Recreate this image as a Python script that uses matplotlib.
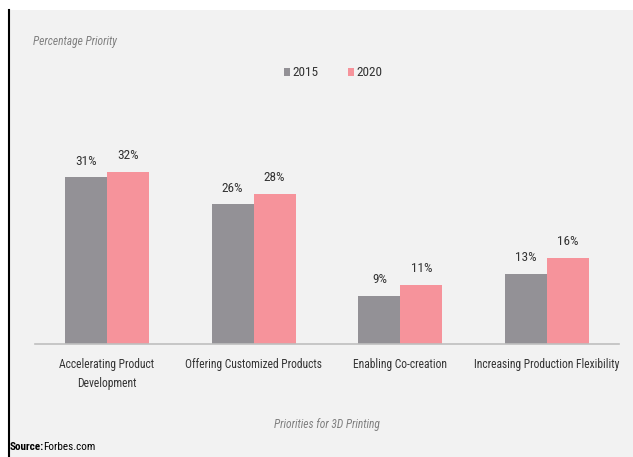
import matplotlib
matplotlib.use("Agg")
import matplotlib.pyplot as plt
from matplotlib.patches import Rectangle
from matplotlib.lines import Line2D
import numpy as np

# data
categories = ["Accelerating Product\nDevelopment", "Offering Customized Products",
              "Enabling Co-creation", "Increasing Production Flexibility"]
years = ["2015", "2020"]
vals_2015 = [31, 26, 9, 13]
vals_2020 = [32, 28, 11, 16]

gray = "#939196"
pink = "#f6939b"
bg = "#f2f2f2"
txt = "#333333"

# narrow font if there is one, else plain sans
plt.rcParams['font.family'] = ['Liberation Sans Narrow', 'Arial Narrow', 'Roboto Condensed',
                               'Archivo Narrow', 'Liberation Sans', 'DejaVu Sans']

fig = plt.figure(figsize=(6.33, 4.57), dpi=100)
fig.patch.set_facecolor("white")
# grey panel and left black rule
fig.add_artist(Rectangle((9 / 633, 0), 1, (457 - 10) / 457, transform=fig.transFigure,
                         facecolor=bg, edgecolor="none", zorder=0))
fig.add_artist(Line2D([9 / 633, 9 / 633], [0, (457 - 10) / 457], transform=fig.transFigure,
                      color="black", lw=1.5, zorder=1))

ax = fig.add_axes([35 / 633, 113 / 457, 584 / 633, 188 / 457])
ax.patch.set_visible(False)

x = np.arange(len(categories))
w = 0.286
b1 = ax.bar(x - w / 2, vals_2015, w, color=gray, label=years[0])
b2 = ax.bar(x + w / 2, vals_2020, w, color=pink, label=years[1])

for bars in (b1, b2):
    for r in bars:
        ax.annotate(f"{int(r.get_height())}%", (r.get_x() + r.get_width() / 2, r.get_height()),
                    xytext=(0, 7), textcoords="offset points", ha="center", va="bottom",
                    fontsize=9.5, color=txt)

ax.set_xlim(-0.49, 3.49)
ax.set_ylim(0, 35)
ax.set_yticks([])
ax.set_xticks(x)
ax.set_xticklabels(categories, fontsize=8.3, color=txt, linespacing=1.65)
ax.tick_params(axis="x", length=0, pad=10)
for s in ["top", "right", "left"]:
    ax.spines[s].set_visible(False)
ax.spines["bottom"].set_color("#bfbfbf")
ax.spines["bottom"].set_linewidth(1.2)

ax.set_xlabel("Priorities for 3D Printing", fontsize=8.3, color="#808080",
              style="italic", labelpad=20)

fig.text(33 / 633, 1 - 42 / 457, "Percentage Priority", fontsize=8.3, color="#808080",
         style="italic", va="center")

fig.legend(loc="center", bbox_to_anchor=(333 / 633, 1 - 73 / 457), ncol=2, frameon=False,
           fontsize=9.5, handlelength=0.45, handleheight=0.6, handletextpad=0.2,
           columnspacing=2.2, labelcolor=txt)

fig.text(10 / 633, 1 - 447 / 457, "Source:", fontsize=8, weight="bold", color="black",
         va="center")
fig.text(43 / 633, 1 - 447 / 457, "Forbes.com", fontsize=8, color="black", va="center")

fig.savefig("out.png", dpi=100)
